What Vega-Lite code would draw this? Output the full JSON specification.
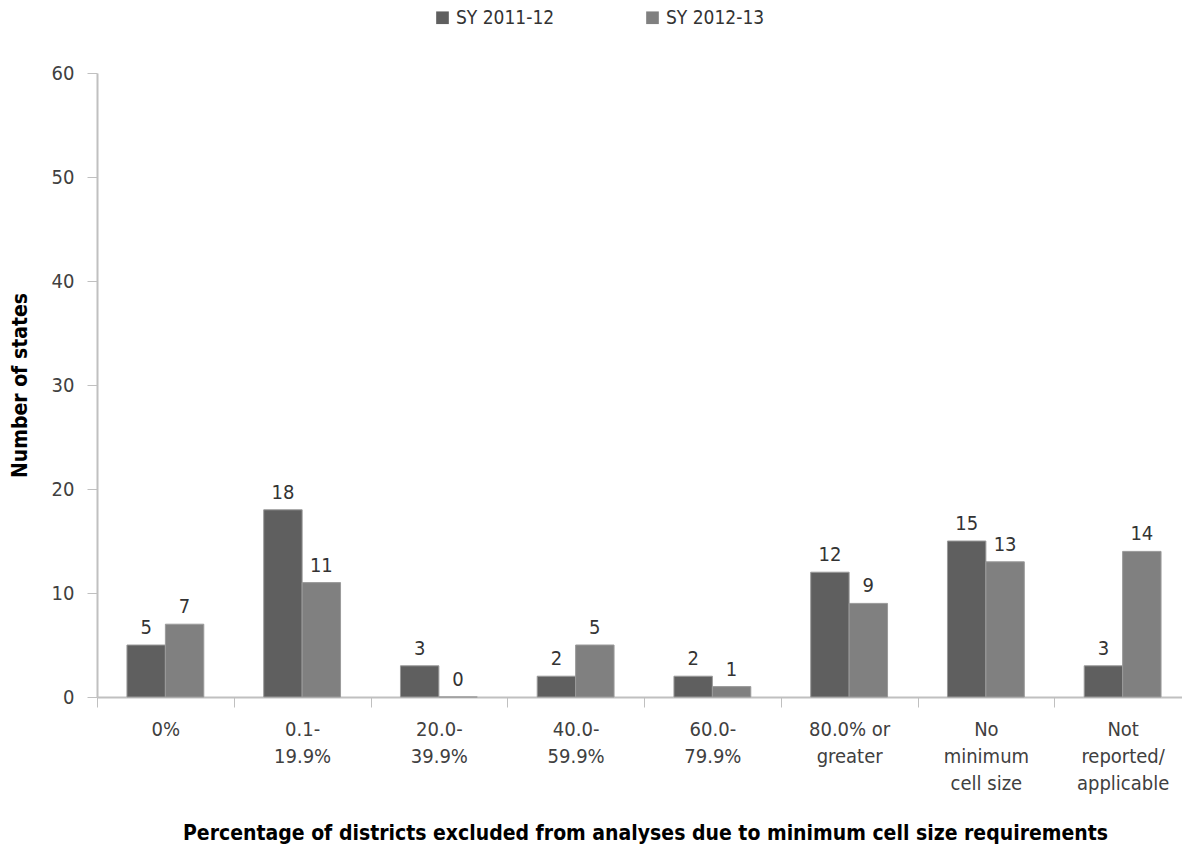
{
  "$schema": "https://vega.github.io/schema/vega-lite/v6.json",
  "width": 1094,
  "height": 624,
  "autosize": {"type": "none"},
  "padding": {"left": 97, "top": 73, "right": 0, "bottom": 154},
  "background": "#ffffff",
  "data": {
    "values": [
      {"cat": "0%", "year": "SY 2011-12", "n": 5},
      {"cat": "0%", "year": "SY 2012-13", "n": 7},
      {"cat": "0.1-|19.9%", "year": "SY 2011-12", "n": 18},
      {"cat": "0.1-|19.9%", "year": "SY 2012-13", "n": 11},
      {"cat": "20.0-|39.9%", "year": "SY 2011-12", "n": 3},
      {"cat": "20.0-|39.9%", "year": "SY 2012-13", "n": 0},
      {"cat": "40.0-|59.9%", "year": "SY 2011-12", "n": 2},
      {"cat": "40.0-|59.9%", "year": "SY 2012-13", "n": 5},
      {"cat": "60.0-|79.9%", "year": "SY 2011-12", "n": 2},
      {"cat": "60.0-|79.9%", "year": "SY 2012-13", "n": 1},
      {"cat": "80.0% or|greater", "year": "SY 2011-12", "n": 12},
      {"cat": "80.0% or|greater", "year": "SY 2012-13", "n": 9},
      {"cat": "No|minimum|cell size", "year": "SY 2011-12", "n": 15},
      {"cat": "No|minimum|cell size", "year": "SY 2012-13", "n": 13},
      {"cat": "Not|reported/|applicable", "year": "SY 2011-12", "n": 3},
      {"cat": "Not|reported/|applicable", "year": "SY 2012-13", "n": 14}
    ]
  },
  "encoding": {
    "x": {
      "field": "cat",
      "type": "nominal",
      "sort": null,
      "scale": {"paddingInner": 0, "paddingOuter": 0},
      "axis": {
        "title": "Percentage of districts excluded from analyses due to minimum cell size requirements",
        "titleFont": "DejaVu Sans Condensed, sans-serif",
        "titleFontSize": 21,
        "titleFontWeight": "bold",
        "titleColor": "#000000",
        "titleX": 548,
        "titleY": 136,
        "titleBaseline": "middle",
        "labelAngle": 0,
        "labelExpr": "split(datum.label, '|')",
        "labelFont": "DejaVu Sans Condensed, sans-serif",
        "labelFontSize": 20,
        "labelColor": "#404040",
        "labelLineHeight": 27,
        "labelPadding": 12,
        "labelBaseline": "top",
        "domainColor": "#c0c0c0",
        "domainWidth": 2,
        "tickColor": "#c0c0c0",
        "tickSize": 10,
        "tickBand": "extent",
        "ticks": true
      }
    },
    "xOffset": {"field": "year", "type": "nominal", "scale": {"paddingInner": 0, "paddingOuter": 0.78}},
    "y": {
      "field": "n",
      "type": "quantitative",
      "scale": {"domain": [0, 60]},
      "axis": {
        "title": "Number of states",
        "titleFont": "DejaVu Sans Condensed, sans-serif",
        "titleFontSize": 21,
        "titleFontWeight": "bold",
        "titleColor": "#000000",
        "titleX": -77,
        "titleY": 312,
        "titleAngle": -90,
        "titleAlign": "center",
        "titleBaseline": "middle",
        "values": [0, 10, 20, 30, 40, 50, 60],
        "grid": false,
        "labelFont": "DejaVu Sans Condensed, sans-serif",
        "labelFontSize": 20,
        "labelColor": "#404040",
        "labelPadding": 13,
        "domainColor": "#c0c0c0",
        "domainWidth": 2,
        "tickColor": "#c0c0c0",
        "tickSize": 10
      }
    }
  },
  "layer": [
    {
      "mark": {"type": "bar", "stroke": "#9a9a9a", "strokeWidth": 1},
      "encoding": {
        "color": {
          "field": "year",
          "type": "nominal",
          "scale": {"domain": ["SY 2011-12", "SY 2012-13"], "range": ["#5f5f5f", "#808080"]},
          "legend": {
            "title": null,
            "orient": "none",
            "direction": "horizontal",
            "legendX": 336,
            "legendY": -65,
            "symbolType": "square",
            "symbolSize": 160,
            "symbolStrokeWidth": 0,
            "labelFont": "DejaVu Sans Condensed, sans-serif",
            "labelFontSize": 19,
            "labelColor": "#333333",
            "columnPadding": 88,
            "labelOffset": 4
          }
        }
      }
    },
    {
      "mark": {
        "type": "text",
        "dy": -17,
        "font": "DejaVu Sans Condensed, sans-serif",
        "fontSize": 20,
        "color": "#333333"
      },
      "encoding": {"text": {"field": "n", "type": "quantitative"}}
    }
  ],
  "config": {"view": {"stroke": null}}
}
